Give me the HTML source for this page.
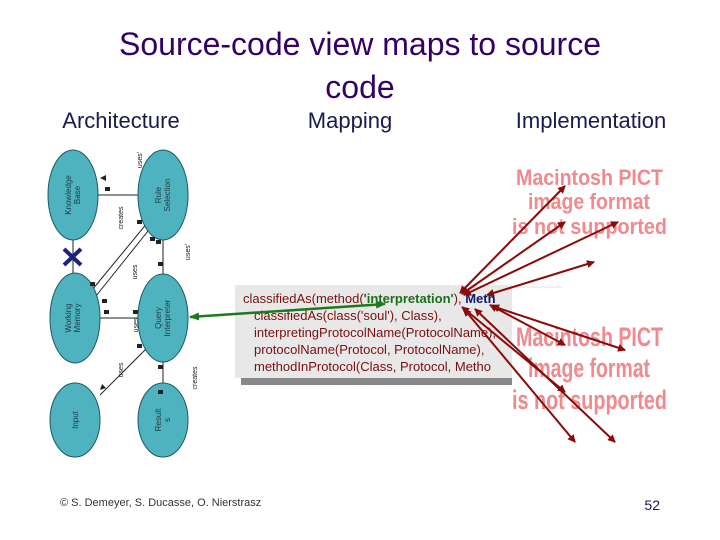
<!DOCTYPE html>
<html><head><meta charset="utf-8"><style>
body{margin:0;background:#fff;}
svg{display:block;font-family:"Liberation Sans",sans-serif;}
</style></head><body>
<svg width="720" height="540" viewBox="0 0 720 540">
<defs>
<marker id="ar" markerWidth="8" markerHeight="8" refX="7" refY="4" orient="auto-start-reverse" markerUnits="userSpaceOnUse"><path d="M0,0 L8,4 L0,8 Z" fill="#8b0a0a"/></marker>
<marker id="ag" markerWidth="10" markerHeight="8" refX="9" refY="4" orient="auto-start-reverse" markerUnits="userSpaceOnUse"><path d="M0,0 L10,4 L0,8 Z" fill="#1c7a1c"/></marker>
</defs>
<text x="360" y="55" font-size="32" fill="#330066" text-anchor="middle">Source-code view maps to source</text>
<text x="360" y="98" font-size="32" fill="#330066" text-anchor="middle">code</text>
<text x="121" y="128" font-size="22" fill="#1a1a4d" text-anchor="middle">Architecture</text>
<text x="350" y="128" font-size="22" fill="#1a1a4d" text-anchor="middle">Mapping</text>
<text x="591" y="128" font-size="22" fill="#1a1a4d" text-anchor="middle">Implementation</text>

<g stroke="#222" stroke-width="1" fill="none">
<line x1="73" y1="195" x2="163" y2="195"/>
<line x1="163" y1="230" x2="163" y2="285"/>
<line x1="73" y1="230" x2="73" y2="285"/>
<line x1="75" y1="318" x2="163" y2="318"/>
<line x1="92" y1="290" x2="148" y2="222"/>
<line x1="96" y1="296" x2="152" y2="226"/>
<line x1="150" y1="345" x2="100" y2="395"/>
<line x1="163" y1="355" x2="163" y2="390"/>
</g>
<g fill="#4fb3bf" stroke="#1a5a66" stroke-width="1">
<ellipse cx="73" cy="195" rx="25" ry="45"/>
<ellipse cx="163" cy="195" rx="25" ry="45"/>
<ellipse cx="75" cy="318" rx="25" ry="45"/>
<ellipse cx="163" cy="318" rx="25" ry="44"/>
<ellipse cx="75" cy="420" rx="25" ry="37"/>
<ellipse cx="163" cy="420" rx="25" ry="37"/>
</g>
<g stroke="#1a237e" stroke-width="4"><line x1="64" y1="249" x2="81" y2="265"/><line x1="81" y1="249" x2="64" y2="265"/></g>
<g font-size="8" fill="#1a3a44" text-anchor="middle">
<text transform="translate(71,195) rotate(-90)">Knowledge</text>
<text transform="translate(80,195) rotate(-90)">Base</text>
<text transform="translate(161,195) rotate(-90)">Rule</text>
<text transform="translate(170,195) rotate(-90)">Selection</text>
<text transform="translate(71,318) rotate(-90)">Working</text>
<text transform="translate(80,318) rotate(-90)">Memory</text>
<text transform="translate(161,318) rotate(-90)">Query</text>
<text transform="translate(170,318) rotate(-90)">Interpreter</text>
<text transform="translate(78,420) rotate(-90)">Input</text>
<text transform="translate(161,420) rotate(-90)">Result</text>
<text transform="translate(170,420) rotate(-90)">s</text>
</g>
<g font-size="7" fill="#222" text-anchor="middle">
<text transform="translate(142,160) rotate(-90)">uses'</text>
<text transform="translate(123,218) rotate(-90)">creates</text>
<text transform="translate(137,272) rotate(-90)">uses</text>
<text transform="translate(190,252) rotate(-90)">uses'</text>
<text transform="translate(138,325) rotate(-90)">uses</text>
<text transform="translate(123,370) rotate(-90)">uses</text>
<text transform="translate(197,378) rotate(-90)">creates</text>
</g>
<g fill="#222">
<rect x="105" y="187" width="5" height="4"/><rect x="137" y="220" width="5" height="4"/>
<rect x="150" y="237" width="5" height="4"/><rect x="156" y="240" width="5" height="4"/>
<rect x="158" y="262" width="5" height="4"/><rect x="90" y="282" width="5" height="4"/>
<rect x="102" y="299" width="5" height="4"/><rect x="104" y="310" width="5" height="4"/>
<rect x="133" y="310" width="5" height="4"/><rect x="137" y="344" width="5" height="4"/>
<rect x="158" y="365" width="5" height="4"/><rect x="158" y="390" width="5" height="4"/>
<path d="M100,178 l6,-3 l0,6 z"/><path d="M100,390 l2,-6 l4,4 z"/>
</g>

<g font-weight="bold" fill="#f08a8e" lengthAdjust="spacingAndGlyphs">
<text x="516" y="185" font-size="22" textLength="147" lengthAdjust="spacingAndGlyphs">Macintosh PICT</text>
<text x="528" y="209" font-size="22" textLength="122" lengthAdjust="spacingAndGlyphs">image format</text>
<text x="512" y="234" font-size="22" textLength="155" lengthAdjust="spacingAndGlyphs">is not supported</text>
<text x="516" y="346" font-size="27" textLength="147" lengthAdjust="spacingAndGlyphs">Macintosh PICT</text>
<text x="528" y="377" font-size="27" textLength="122" lengthAdjust="spacingAndGlyphs">image format</text>
<text x="512" y="409" font-size="27" textLength="155" lengthAdjust="spacingAndGlyphs">is not supported</text>
</g>
<rect x="241" y="378" width="271" height="7" fill="#888"/>
<rect x="235" y="285" width="277" height="93" fill="#e8e8e8"/>
<line x1="512" y1="287" x2="562" y2="287" stroke="#e0e0e0" stroke-width="1"/>
<g font-size="13" fill="#7a0f0f">
<text x="243" y="303">classifiedAs(method(<tspan fill="#1c6e1c" font-weight="bold">'interpretation'</tspan>), <tspan fill="#0d1a6e" font-weight="bold">Meth</tspan></text>
<text x="254" y="320">classifiedAs(class('soul'), Class),</text>
<text x="254" y="337">interpretingProtocolName(ProtocolName),</text>
<text x="254" y="354">protocolName(Protocol, ProtocolName),</text>
<text x="254" y="371">methodInProtocol(Class, Protocol, Metho</text>
</g>
<rect x="512" y="285" width="3" height="100" fill="#fff"/>
<line x1="190" y1="317" x2="385" y2="304" stroke="#1c7a1c" stroke-width="2.5" marker-start="url(#ag)" marker-end="url(#ag)"/>
<g stroke="#8b0a0a" stroke-width="2" marker-start="url(#ar)" marker-end="url(#ar)">
<line x1="460" y1="293" x2="565" y2="186"/>
<line x1="462" y1="294" x2="565" y2="222"/>
<line x1="464" y1="295" x2="618" y2="222"/>
<line x1="487" y1="295" x2="594" y2="262"/>
<line x1="490" y1="305" x2="565" y2="345"/>
<line x1="492" y1="306" x2="625" y2="350"/>
<line x1="462" y1="307" x2="565" y2="392"/>
<line x1="464" y1="309" x2="575" y2="442"/>
<line x1="475" y1="309" x2="615" y2="442"/>
</g>
<text x="60" y="506" font-size="11" fill="#333">© S. Demeyer, S. Ducasse, O. Nierstrasz</text>
<text x="660" y="510" font-size="14" fill="#1a1a4d" text-anchor="end">52</text>
</svg>
</body></html>
